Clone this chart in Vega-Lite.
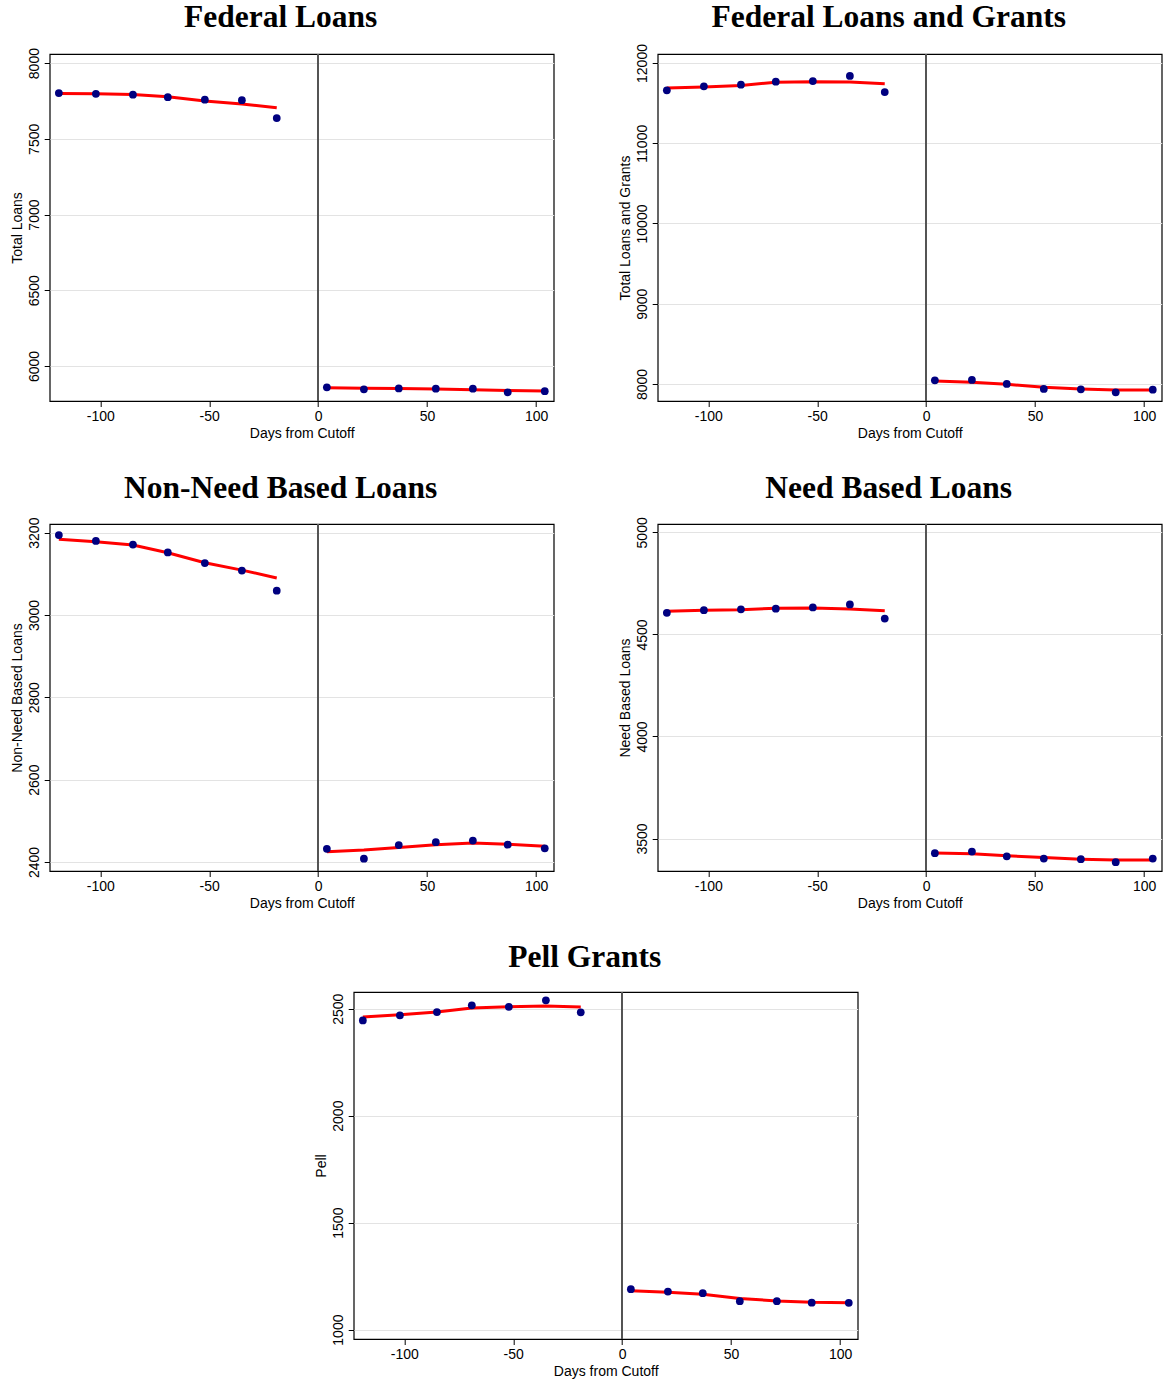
{
  "$schema": "https://vega.github.io/schema/vega-lite/v6.json",
  "padding": {"left": 9.5, "top": 1, "right": 0, "bottom": 0},
  "background": "white",
  "datasets": {
    "d": [
      {"panel": "fl", "side": "L", "x": -119, "y": 7802, "fit": 7800},
      {"panel": "fl", "side": "L", "x": -102, "y": 7797, "fit": 7798},
      {"panel": "fl", "side": "L", "x": -85, "y": 7791, "fit": 7792},
      {"panel": "fl", "side": "L", "x": -69, "y": 7775, "fit": 7778},
      {"panel": "fl", "side": "L", "x": -52, "y": 7758, "fit": 7750},
      {"panel": "fl", "side": "L", "x": -35, "y": 7755, "fit": 7730},
      {"panel": "fl", "side": "L", "x": -19, "y": 7637, "fit": 7705},
      {"panel": "fl", "side": "R", "x": 4, "y": 5859, "fit": 5856},
      {"panel": "fl", "side": "R", "x": 21, "y": 5846, "fit": 5853},
      {"panel": "fl", "side": "R", "x": 37, "y": 5852, "fit": 5851},
      {"panel": "fl", "side": "R", "x": 54, "y": 5850, "fit": 5848},
      {"panel": "fl", "side": "R", "x": 71, "y": 5850, "fit": 5844},
      {"panel": "fl", "side": "R", "x": 87, "y": 5826, "fit": 5839},
      {"panel": "fl", "side": "R", "x": 104, "y": 5834, "fit": 5835},

      {"panel": "flg", "side": "L", "x": -119, "y": 11659, "fit": 11688},
      {"panel": "flg", "side": "L", "x": -102, "y": 11709, "fit": 11700},
      {"panel": "flg", "side": "L", "x": -85, "y": 11730, "fit": 11721},
      {"panel": "flg", "side": "L", "x": -69, "y": 11767, "fit": 11759},
      {"panel": "flg", "side": "L", "x": -52, "y": 11775, "fit": 11767},
      {"panel": "flg", "side": "L", "x": -35, "y": 11838, "fit": 11763},
      {"panel": "flg", "side": "L", "x": -19, "y": 11638, "fit": 11742},
      {"panel": "flg", "side": "R", "x": 4, "y": 8046, "fit": 8037},
      {"panel": "flg", "side": "R", "x": 21, "y": 8050, "fit": 8021},
      {"panel": "flg", "side": "R", "x": 37, "y": 8000, "fit": 7996},
      {"panel": "flg", "side": "R", "x": 54, "y": 7938, "fit": 7958},
      {"panel": "flg", "side": "R", "x": 71, "y": 7933, "fit": 7938},
      {"panel": "flg", "side": "R", "x": 87, "y": 7896, "fit": 7925},
      {"panel": "flg", "side": "R", "x": 104, "y": 7929, "fit": 7925},

      {"panel": "nnb", "side": "L", "x": -119, "y": 3194, "fit": 3184},
      {"panel": "nnb", "side": "L", "x": -102, "y": 3180, "fit": 3178},
      {"panel": "nnb", "side": "L", "x": -85, "y": 3171, "fit": 3170},
      {"panel": "nnb", "side": "L", "x": -69, "y": 3152, "fit": 3151},
      {"panel": "nnb", "side": "L", "x": -52, "y": 3126, "fit": 3127},
      {"panel": "nnb", "side": "L", "x": -35, "y": 3108, "fit": 3109},
      {"panel": "nnb", "side": "L", "x": -19, "y": 3059, "fit": 3090},
      {"panel": "nnb", "side": "R", "x": 4, "y": 2432, "fit": 2425},
      {"panel": "nnb", "side": "R", "x": 21, "y": 2408, "fit": 2429},
      {"panel": "nnb", "side": "R", "x": 37, "y": 2441, "fit": 2435},
      {"panel": "nnb", "side": "R", "x": 54, "y": 2448, "fit": 2442},
      {"panel": "nnb", "side": "R", "x": 71, "y": 2452, "fit": 2446},
      {"panel": "nnb", "side": "R", "x": 87, "y": 2442, "fit": 2443},
      {"panel": "nnb", "side": "R", "x": 104, "y": 2433, "fit": 2438},

      {"panel": "nb", "side": "L", "x": -119, "y": 4606, "fit": 4614},
      {"panel": "nb", "side": "L", "x": -102, "y": 4619, "fit": 4618},
      {"panel": "nb", "side": "L", "x": -85, "y": 4623, "fit": 4621},
      {"panel": "nb", "side": "L", "x": -69, "y": 4626, "fit": 4628},
      {"panel": "nb", "side": "L", "x": -52, "y": 4632, "fit": 4629},
      {"panel": "nb", "side": "L", "x": -35, "y": 4647, "fit": 4624},
      {"panel": "nb", "side": "L", "x": -19, "y": 4578, "fit": 4616},
      {"panel": "nb", "side": "R", "x": 4, "y": 3428, "fit": 3429},
      {"panel": "nb", "side": "R", "x": 21, "y": 3436, "fit": 3425},
      {"panel": "nb", "side": "R", "x": 37, "y": 3413, "fit": 3416},
      {"panel": "nb", "side": "R", "x": 54, "y": 3402, "fit": 3407},
      {"panel": "nb", "side": "R", "x": 71, "y": 3399, "fit": 3399},
      {"panel": "nb", "side": "R", "x": 87, "y": 3384, "fit": 3395},
      {"panel": "nb", "side": "R", "x": 104, "y": 3402, "fit": 3395},

      {"panel": "pell", "side": "L", "x": -119, "y": 2445, "fit": 2461},
      {"panel": "pell", "side": "L", "x": -102, "y": 2469, "fit": 2472},
      {"panel": "pell", "side": "L", "x": -85, "y": 2484, "fit": 2484},
      {"panel": "pell", "side": "L", "x": -69, "y": 2516, "fit": 2503},
      {"panel": "pell", "side": "L", "x": -52, "y": 2509, "fit": 2509},
      {"panel": "pell", "side": "L", "x": -35, "y": 2539, "fit": 2512},
      {"panel": "pell", "side": "L", "x": -19, "y": 2483, "fit": 2508},
      {"panel": "pell", "side": "R", "x": 4, "y": 1189, "fit": 1181},
      {"panel": "pell", "side": "R", "x": 21, "y": 1178, "fit": 1175},
      {"panel": "pell", "side": "R", "x": 37, "y": 1170, "fit": 1165},
      {"panel": "pell", "side": "R", "x": 54, "y": 1133, "fit": 1145},
      {"panel": "pell", "side": "R", "x": 71, "y": 1133, "fit": 1134},
      {"panel": "pell", "side": "R", "x": 87, "y": 1126, "fit": 1128},
      {"panel": "pell", "side": "R", "x": 104, "y": 1125, "fit": 1126}
    ]
  },
  "data": {"name": "d"},
  "spacing": 29,
  "center": true,
  "vconcat": [
    {
      "spacing": 63,
      "hconcat": [
        {
          "title": {"text": "Federal Loans", "offset": 13.7},
          "width": 504, "height": 347,
          "transform": [{"filter": "datum.panel === 'fl'"}],
          "layer": [
            {"mark": {"type": "rule", "color": "#555", "strokeWidth": 1.3}, "encoding": {"x": {"datum": 0, "type": "quantitative"}}},
            {"mark": {"type": "line", "color": "#ff0000", "strokeWidth": 3}, "encoding": {
              "x": {"field": "x", "type": "quantitative", "scale": {"domain": [-123.2, 108.1], "nice": false, "zero": false}, "axis": {"values": [-100, -50, 0, 50, 100], "title": "Days from Cutoff"}},
              "y": {"field": "fit", "type": "quantitative", "scale": {"domain": [5769, 8060], "nice": false, "zero": false}, "axis": {"values": [6000, 6500, 7000, 7500, 8000], "title": "Total Loans"}},
              "detail": {"field": "side"}}},
            {"mark": {"type": "point", "filled": true, "color": "#000080", "opacity": 1, "size": 60}, "encoding": {
              "x": {"field": "x", "type": "quantitative"},
              "y": {"field": "y", "type": "quantitative"}}}
          ]
        },
        {
          "title": {"text": "Federal Loans and Grants", "offset": 9.8},
          "width": 504, "height": 347,
          "transform": [{"filter": "datum.panel === 'flg'"}],
          "layer": [
            {"mark": {"type": "rule", "color": "#555", "strokeWidth": 1.3}, "encoding": {"x": {"datum": 0, "type": "quantitative"}}},
            {"mark": {"type": "line", "color": "#ff0000", "strokeWidth": 3}, "encoding": {
              "x": {"field": "x", "type": "quantitative", "scale": {"domain": [-123.2, 108.1], "nice": false, "zero": false}, "axis": {"values": [-100, -50, 0, 50, 100], "title": "Days from Cutoff"}},
              "y": {"field": "fit", "type": "quantitative", "scale": {"domain": [7788, 12112], "nice": false, "zero": false}, "axis": {"values": [8000, 9000, 10000, 11000, 12000], "title": "Total Loans and Grants"}},
              "detail": {"field": "side"}}},
            {"mark": {"type": "point", "filled": true, "color": "#000080", "opacity": 1, "size": 60}, "encoding": {
              "x": {"field": "x", "type": "quantitative"},
              "y": {"field": "y", "type": "quantitative"}}}
          ]
        }
      ]
    },
    {
      "spacing": 63,
      "hconcat": [
        {
          "title": {"text": "Non-Need Based Loans", "offset": 13},
          "width": 504, "height": 347,
          "transform": [{"filter": "datum.panel === 'nnb'"}],
          "layer": [
            {"mark": {"type": "rule", "color": "#555", "strokeWidth": 1.3}, "encoding": {"x": {"datum": 0, "type": "quantitative"}}},
            {"mark": {"type": "line", "color": "#ff0000", "strokeWidth": 3}, "encoding": {
              "x": {"field": "x", "type": "quantitative", "scale": {"domain": [-123.2, 108.1], "nice": false, "zero": false}, "axis": {"values": [-100, -50, 0, 50, 100], "title": "Days from Cutoff"}},
              "y": {"field": "fit", "type": "quantitative", "scale": {"domain": [2378, 3221], "nice": false, "zero": false}, "axis": {"values": [2400, 2600, 2800, 3000, 3200], "title": "Non-Need Based Loans"}},
              "detail": {"field": "side"}}},
            {"mark": {"type": "point", "filled": true, "color": "#000080", "opacity": 1, "size": 60}, "encoding": {
              "x": {"field": "x", "type": "quantitative"},
              "y": {"field": "y", "type": "quantitative"}}}
          ]
        },
        {
          "title": {"text": "Need Based Loans", "offset": 12.7},
          "width": 504, "height": 347,
          "transform": [{"filter": "datum.panel === 'nb'"}],
          "layer": [
            {"mark": {"type": "rule", "color": "#555", "strokeWidth": 1.3}, "encoding": {"x": {"datum": 0, "type": "quantitative"}}},
            {"mark": {"type": "line", "color": "#ff0000", "strokeWidth": 3}, "encoding": {
              "x": {"field": "x", "type": "quantitative", "scale": {"domain": [-123.2, 108.1], "nice": false, "zero": false}, "axis": {"values": [-100, -50, 0, 50, 100], "title": "Days from Cutoff"}},
              "y": {"field": "fit", "type": "quantitative", "scale": {"domain": [3341, 5041], "nice": false, "zero": false}, "axis": {"values": [3500, 4000, 4500, 5000], "title": "Need Based Loans"}},
              "detail": {"field": "side"}}},
            {"mark": {"type": "point", "filled": true, "color": "#000080", "opacity": 1, "size": 60}, "encoding": {
              "x": {"field": "x", "type": "quantitative"},
              "y": {"field": "y", "type": "quantitative"}}}
          ]
        }
      ]
    },
    {
      "title": {"text": "Pell Grants", "offset": 17.5},
      "width": 504, "height": 347,
      "transform": [{"filter": "datum.panel === 'pell'"}],
      "layer": [
        {"mark": {"type": "rule", "color": "#555", "strokeWidth": 1.3}, "encoding": {"x": {"datum": 0, "type": "quantitative"}}},
        {"mark": {"type": "line", "color": "#ff0000", "strokeWidth": 3}, "encoding": {
          "x": {"field": "x", "type": "quantitative", "scale": {"domain": [-123.2, 108.1], "nice": false, "zero": false}, "axis": {"values": [-100, -50, 0, 50, 100], "title": "Days from Cutoff"}},
          "y": {"field": "fit", "type": "quantitative", "scale": {"domain": [956, 2578], "nice": false, "zero": false}, "axis": {"values": [1000, 1500, 2000, 2500], "title": "Pell"}},
          "detail": {"field": "side"}}},
        {"mark": {"type": "point", "filled": true, "color": "#000080", "opacity": 1, "size": 60}, "encoding": {
          "x": {"field": "x", "type": "quantitative"},
          "y": {"field": "y", "type": "quantitative"}}}
      ]
    }
  ],
  "config": {
    "view": {"stroke": "#000", "strokeWidth": 1.2},
    "title": {"font": "Liberation Serif", "fontSize": 31.5, "fontWeight": "bold", "color": "#000", "anchor": "middle", "dx": -21, "baseline": "alphabetic"},
    "axis": {"labelFont": "Liberation Sans", "labelFontSize": 14, "labelColor": "#000", "titleFont": "Liberation Sans", "titleFontSize": 14, "titleFontWeight": "normal", "titleColor": "#000", "domain": false, "tickColor": "#000", "tickSize": 5.5, "tickWidth": 1, "gridColor": "#e3e3e3", "gridWidth": 1, "labelExpr": "'' + datum.value"},
    "axisX": {"grid": false, "labelPadding": 3, "titlePadding": 3, "labelFlush": false},
    "axisY": {"grid": true, "labelAngle": -90, "labelAlign": "center", "labelBaseline": "alphabetic", "labelPadding": 5.5, "titlePadding": 3}
  }
}
